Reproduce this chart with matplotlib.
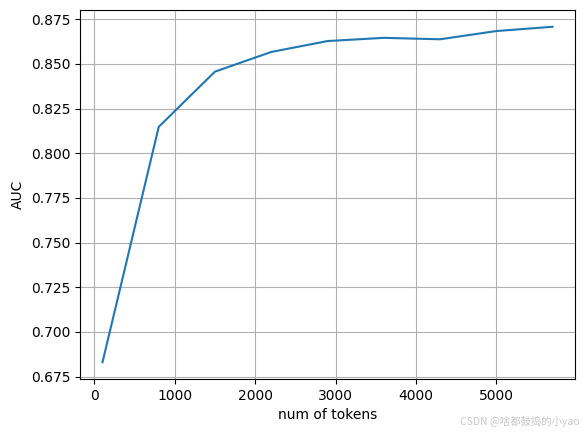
import matplotlib.pyplot as plt

# data
num_tokens = [100, 800, 1500, 2200, 2900, 3600, 4300, 5000, 5700]
auc = [0.683, 0.8148, 0.8457, 0.8567, 0.8628, 0.8646, 0.8638, 0.8684, 0.8708]

fig = plt.figure(figsize=(5.84, 4.32), dpi=100)
ax = fig.add_axes([80 / 584, 1 - 379 / 432, 495 / 584, 369 / 432])
ax.plot(num_tokens, auc)
ax.set_xlabel('num of tokens')
ax.set_ylabel('AUC')
ax.grid(True)

# watermark
fig.text(0.993, 0.012, 'CSDN @啥都鼓捣的小yao', ha='right', va='bottom',
         fontsize=7.5, color='#c8c8c8', family=['Noto Sans CJK SC', 'DejaVu Sans'])

fig.savefig('out.png', dpi=100)
